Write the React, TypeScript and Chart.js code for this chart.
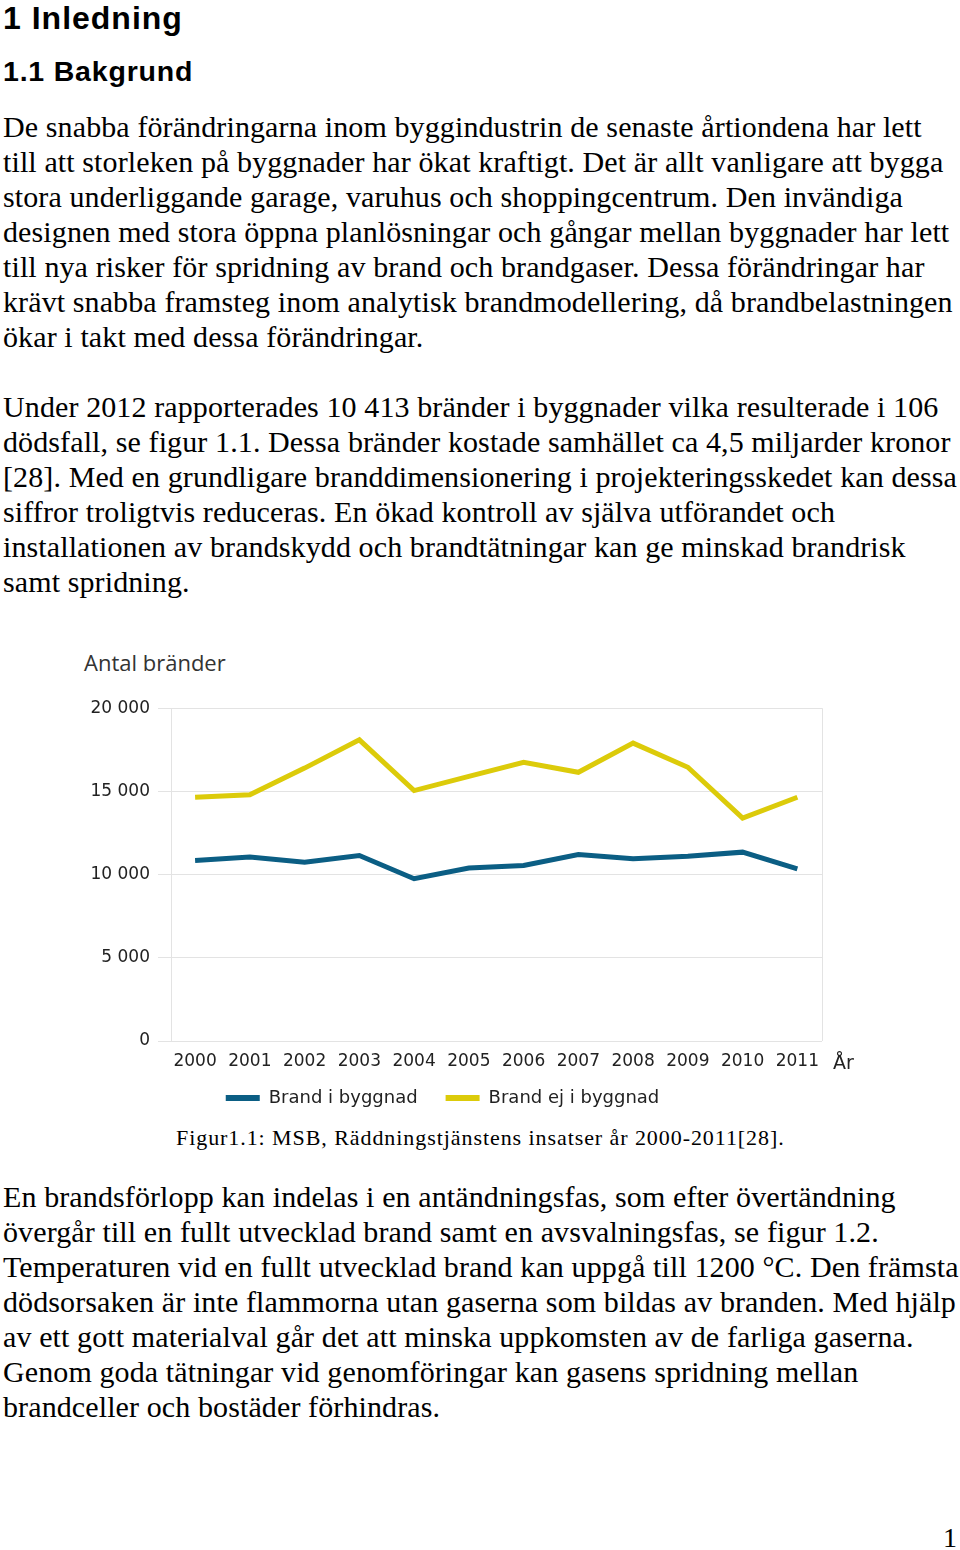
import React, { useEffect, useRef } from "react";
import { Chart, registerables } from "chart.js";

Chart.register(...registerables);

const years = [2000, 2001, 2002, 2003, 2004, 2005, 2006, 2007, 2008, 2009, 2010, 2011];
const brandIByggnad = [10850, 11050, 10750, 11150, 9750, 10400, 10550, 11200, 10950, 11100, 11350, 10350];
const brandEjIByggnad = [14650, 14800, 16400, 18100, 15050, 15900, 16750, 16150, 17900, 16450, 13400, 14650];
const seriesLabels = ["Brand i byggnad", "Brand ej i byggnad"];
const yTicks = [0, 5000, 10000, 15000, 20000];
const yTitle = "Antal bränder";
const xUnit = "År";

const para1 = [
  "De snabba förändringarna inom byggindustrin de senaste årtiondena har lett",
  "till att storleken på byggnader har ökat kraftigt. Det är allt vanligare att bygga",
  "stora underliggande garage, varuhus och shoppingcentrum. Den invändiga",
  "designen med stora öppna planlösningar och gångar mellan byggnader har lett",
  "till nya risker för spridning av brand och brandgaser. Dessa förändringar har",
  "krävt snabba framsteg inom analytisk brandmodellering, då brandbelastningen",
  "ökar i takt med dessa förändringar.",
];
const para2 = [
  "Under 2012 rapporterades 10 413 bränder i byggnader vilka resulterade i 106",
  "dödsfall, se figur 1.1. Dessa bränder kostade samhället ca 4,5 miljarder kronor",
  "[28]. Med en grundligare branddimensionering i projekteringsskedet kan dessa",
  "siffror troligtvis reduceras. En ökad kontroll av själva utförandet och",
  "installationen av brandskydd och brandtätningar kan ge minskad brandrisk",
  "samt spridning.",
];
const para3 = [
  "En brandsförlopp kan indelas i en antändningsfas, som efter övertändning",
  "övergår till en fullt utvecklad brand samt en avsvalningsfas, se figur 1.2.",
  "Temperaturen vid en fullt utvecklad brand kan uppgå till 1200 °C. Den främsta",
  "dödsorsaken är inte flammorna utan gaserna som bildas av branden. Med hjälp",
  "av ett gott materialval går det att minska uppkomsten av de farliga gaserna.",
  "Genom goda tätningar vid genomföringar kan gasens spridning mellan",
  "brandceller och bostäder förhindras.",
];
const caption = "Figur1.1: MSB, Räddningstjänstens insatser år 2000-2011[28].";

const BLUE = "#0b5e84";
const YELLOW = "#dccb0a";
const GRID = "#e3e3e3";
const TEXT = "#222";

function fmt(v: number) {
  return String(v).replace(/\B(?=(\d{3})+(?!\d))/g, " ");
}

function ChartBox() {
  const ref = useRef<HTMLCanvasElement | null>(null);
  useEffect(() => {
    if (!ref.current) return;
    Chart.defaults.font.family = '"DejaVu Sans", Verdana, sans-serif';
    const extras = {
      id: "extras",
      beforeDatasetsDraw(chart: any) {
        const { ctx, chartArea } = chart;
        ctx.save();
        ctx.strokeStyle = GRID;
        ctx.lineWidth = 1;
        const x = Math.round(chartArea.right) + 0.5;
        ctx.beginPath();
        ctx.moveTo(x, chartArea.top);
        ctx.lineTo(x, chartArea.bottom);
        ctx.stroke();
        ctx.restore();
      },
      afterDraw(chart: any) {
        const { ctx, chartArea } = chart;
        ctx.save();
        ctx.font = '19px "DejaVu Sans"';
        ctx.fillStyle = TEXT;
        ctx.textAlign = "left";
        ctx.textBaseline = "alphabetic";
        ctx.fillText(xUnit, chartArea.right + 11, chartArea.bottom + 28);
        ctx.restore();
      },
    };
    const chart = new Chart(ref.current, {
      type: "line",
      data: {
        datasets: [
          {
            label: seriesLabels[0],
            data: years.map((y, i) => ({ x: y, y: brandIByggnad[i] })),
            borderColor: BLUE,
            backgroundColor: BLUE,
            borderWidth: 5,
            pointRadius: 0,
            tension: 0,
          },
          {
            label: seriesLabels[1],
            data: years.map((y, i) => ({ x: y, y: brandEjIByggnad[i] })),
            borderColor: YELLOW,
            backgroundColor: YELLOW,
            borderWidth: 5,
            pointRadius: 0,
            tension: 0,
          },
        ],
      },
      options: {
        animation: false,
        responsive: false,
        layout: { padding: { top: 17, right: 38, bottom: 0, left: 40 } },
        scales: {
          x: {
            type: "linear",
            min: 1999.56,
            max: 2011.45,
            afterFit: (s: any) => {
              s.height = 20;
            },
            grid: { drawOnChartArea: false, drawTicks: false, color: GRID },
            border: { display: false },
            ticks: {
              stepSize: 1,
              includeBounds: false,
              mirror: true,
              color: TEXT,
              font: { size: 17, lineHeight: 0.01 },
              padding: -21,
              maxRotation: 0,
              autoSkip: false,
              callback: (v: any) => (Number.isInteger(Number(v)) ? String(v) : ""),
            },
          },
          y: {
            min: 0,
            max: 20000,
            afterBuildTicks: (s: any) => {
              s.ticks = yTicks.map((v) => ({ value: v }));
            },
            afterFit: (s: any) => {
              s.width = 108;
            },
            grid: { color: GRID, tickColor: GRID, tickLength: 13, drawTicks: true },
            border: { display: true, color: GRID },
            ticks: {
              color: TEXT,
              font: { size: 17 },
              padding: 8,
              callback: (v: any) => fmt(Number(v)),
            },
          },
        },
        plugins: {
          tooltip: { enabled: false },
          title: { display: false },
          legend: {
            position: "bottom",
            align: "center",
            labels: {
              color: TEXT,
              font: { size: 18 },
              boxWidth: 34,
              boxHeight: 6,
              padding: 28,
              generateLabels: (c: any) =>
                Chart.defaults.plugins.legend.labels.generateLabels(c).map((l: any) => ({
                  ...l,
                  lineWidth: 0,
                  fillStyle: c.data.datasets[l.datasetIndex].borderColor,
                  strokeStyle: c.data.datasets[l.datasetIndex].borderColor,
                })),
            },
          },
        },
      } as any,
      plugins: [extras],
    });
    return () => chart.destroy();
  }, []);
  return (
    <canvas
      ref={ref}
      width={837}
      height={427}
      style={{ position: "absolute", left: 23, top: 690, width: 837, height: 427, display: "block" }}
    />
  );
}

const serif = '"Liberation Serif", "Times New Roman", serif';
const sans = '"Liberation Sans", Arial, sans-serif';

function Para({ lines, top }: { lines: string[]; top: number }) {
  return (
    <div style={{ position: "absolute", left: 3, top, fontFamily: serif, fontSize: 30, lineHeight: "35px", letterSpacing: 0.11, color: "#000", whiteSpace: "nowrap" }}>
      {lines.map((l, i) => (
        <div key={i}>{l}</div>
      ))}
    </div>
  );
}

export default function App() {
  return (
    <div style={{ position: "absolute", left: 0, top: 0, width: 960, height: 1550, background: "#fff", overflow: "hidden" }}>
      <div style={{ position: "absolute", left: 3, top: 2, fontFamily: sans, fontWeight: 700, fontSize: 32, lineHeight: "32px", letterSpacing: 1, whiteSpace: "nowrap" }}>
        1 Inledning
      </div>
      <div style={{ position: "absolute", left: 3, top: 57, fontFamily: sans, fontWeight: 700, fontSize: 28.5, lineHeight: "28.5px", letterSpacing: 0.8, whiteSpace: "nowrap" }}>
        1.1 Bakgrund
      </div>
      <Para lines={para1} top={109.4} />
      <Para lines={para2} top={389.4} />
      <div style={{ position: "absolute", left: 84, top: 650.5, fontFamily: '"Open Sans", sans-serif', fontSize: 22, lineHeight: "22px", color: "#333", whiteSpace: "nowrap" }}>
        {yTitle}
      </div>
      <ChartBox />
      <div style={{ position: "absolute", left: 176, top: 1126.6, fontFamily: serif, fontSize: 22, lineHeight: "22px", letterSpacing: 0.93, color: "#000", whiteSpace: "nowrap", zIndex: 2 }}>
        {caption}
      </div>
      <Para lines={para3} top={1179.4} />
      <div style={{ position: "absolute", right: 3, top: 1523.6, fontFamily: serif, fontSize: 28, lineHeight: "28px", color: "#000" }}>1</div>
    </div>
  );
}
